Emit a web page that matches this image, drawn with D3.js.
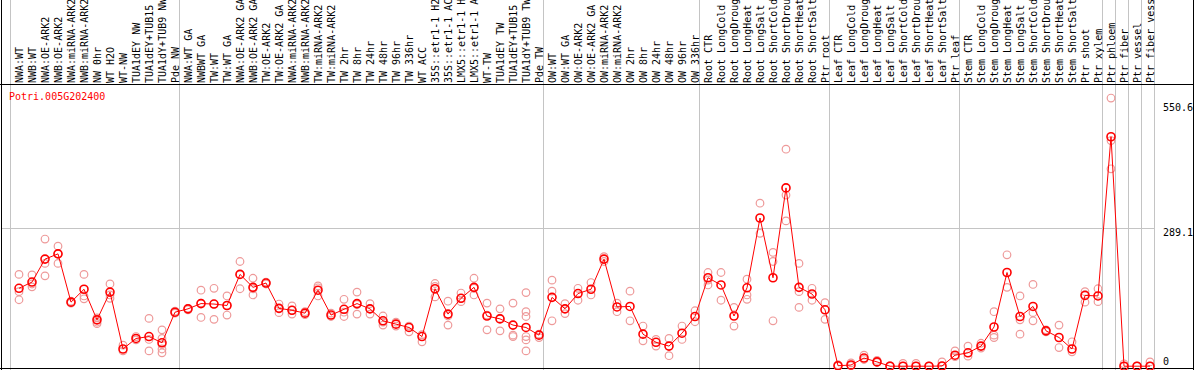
<!DOCTYPE html>
<html>
<head>
<meta charset="utf-8">
<script src="https://d3js.org/d3.v7.min.js"></script>
<style>
  body { margin: 0; background: #fff; }
  text { font-family: "DejaVu Sans Mono", monospace; font-size: 10px; }
</style>
</head>
<body>
<div id="chart"></div>
<script>

const FRAME_HEIGHT = 370;
const FRAME_WIDTH = 1194;
const LABEL_BOTTOM = 85;   // black line under the rotated labels

const GENE = "Potri.005G202400";

// sample names, in plot order
const LABELS = [
  "NWA:WT", "NWB:WT", "NWA:OE-ARK2", "NWB:OE-ARK2", "NWA:miRNA-ARK2", "NWB:miRNA-ARK2",
  "NW 0hr", "WT H2O", "WT-NW", "TUA1dEY NW", "TUA1dEY+TUB15", "TUA1dY+TUB9 NW", "Pde NW",
  "NWA:WT GA", "NWBWT GA", "TW:WT", "TW:WT GA", "NWA:OE-ARK2 GA", "NWB:OE-ARK2 GA",
  "TW:OE-ARK2", "TW:OE-ARK2 GA", "NWA:miRNA-ARK2", "NWB:miRNA-ARK2", "TW:miRNA-ARK2",
  "TW:miRNA-ARK2", "TW 2hr", "TW 8hr", "TW 24hr", "TW 48hr", "TW 96hr", "TW 336hr",
  "WT ACC", "35S::etr1-1 H2O", "35S::etr1-1 ACC", "LMX5::etr1-1 H2O", "LMX5::etr1-1 ACC",
  "WT-TW", "TUA1dEY TW", "TUA1dEY+TUB15", "TUA1dY+TUB9 TW", "Pde TW",
  "OW:WT", "OW:WT GA", "OW:OE-ARK2", "OW:OE-ARK2 GA", "OW:miRNA-ARK2", "OW:miRNA-ARK2",
  "OW 2hr", "OW 8hr", "OW 24hr", "OW 48hr", "OW 96hr", "OW 336hr",
  "Root CTR", "Root LongCold", "Root LongDrought", "Root LongHeat", "Root LongSalt",
  "Root ShortCold", "Root ShortDrought", "Root ShortHeat", "Root ShortSalt", "Ptr root",
  "Leaf CTR", "Leaf LongCold", "Leaf LongDrought", "Leaf LongHeat", "Leaf LongSalt",
  "Leaf ShortCold", "Leaf ShortDrought", "Leaf ShortHeat", "Leaf ShortSalt", "Ptr leaf",
  "Stem CTR", "Stem LongCold", "Stem LongDrought", "Stem LongHeat", "Stem LongSalt",
  "Stem ShortCold", "Stem ShortDrought", "Stem ShortHeat", "Stem ShortSalt", "Ptr shoot",
  "Ptr xylem", "Ptr phloem", "Ptr fiber", "Ptr vessel", "Ptr fiber vessel"
];

// how many samples in each experiment block (gray separators between them)
const GROUP_SIZES = [13, 28, 12, 10, 10, 11, 1, 1, 1, 1];

// mean expression per sample
const MEANS = [
  163, 176, 224, 235, 134, 161, 97, 155, 36, 58, 62, 49, 113,
  120, 131, 130, 127, 192, 165, 174, 121, 117, 111, 159, 107, 119, 131,
  120, 95, 88, 81, 62, 162, 109, 142, 165, 105, 99, 86, 81, 65,
  144, 120, 152, 161, 224, 124, 125, 67, 50, 42, 69, 104,
  185, 170, 105, 164, 310, 185, 373, 165, 151, 118,
  1, 2.5, 17, 9, 0, 0, 0, 0, 0.4, 23,
  28, 42, 82, 196, 104, 125, 74, 60, 36, 148, 147,
  480, 0, 0, 0
];

// replicate values per sample
const REPS = [
  [192, 156, 139], [191, 172, 166], [266, 215, 189], [251, 235, 215], [136, 132],
  [192, 147, 141], [101, 92, 89], [172, 149, 142], [44, 32], [62, 55],
  [100, 56, 32], [76, 58, 45, 36, 28], [115, 111],
  [121, 118], [159, 132, 102], [163, 130, 98], [147, 127, 107], [219, 192, 162],
  [184, 162, 149], [176, 172], [130, 121, 112], [126, 117, 109], [114, 108],
  [168, 164, 147], [111, 104], [140, 113, 104], [155, 129, 109], [131, 120, 109],
  [105, 92, 86], [92, 84], [84, 72], [66, 51], [173, 167, 145], [136, 105, 86],
  [153, 142, 135], [184, 163, 149], [132, 107, 76], [120, 100, 74], [132, 65, 62],
  [154, 114, 104, 62, 55, 32], [67, 60],
  [180, 157, 95], [131, 110], [163, 138], [175, 149], [229, 219], [132, 114],
  [157, 95], [84, 53], [56, 42], [58, 22], [84, 56], [116, 93],
  [196, 180, 170], [196, 138], [123, 84], [182, 149, 140], [341, 278],
  [238, 219, 95], [454, 358, 304], [215, 156, 123], [163, 138], [133, 98],
  [3, 0], [7, 1], [23, 14], [12, 8], [1, 0], [6, 0], [6, 0], [0, 0], [9, 0], [32, 20],
  [42, 21], [48, 38], [114, 65, 60], [233, 165], [147, 97, 67], [171, 112, 95],
  [76, 72], [86, 39], [51, 30], [156, 150, 134], [162, 135],
  [561, 472, 413], [5, 0], [0, 0], [9, 0]
];

// values written at the right edge
const Y_TICKS = [550.6, 289.1, 0];

const FRAME1 = d3.select("#chart")
  .append("svg")
    .attr("width", FRAME_WIDTH)
    .attr("height", FRAME_HEIGHT);

// one 13px slot per sample
const x = d3.scaleBand()
  .domain(d3.range(LABELS.length))
  .range([11, 1155])
  .paddingInner(0)
  .paddingOuter(0);
const px = (i) => x(i) + 8;

const y = d3.scaleLinear()
  .domain([0, 550.6])
  .range([366.2, 103]);

// gray group separators (full height, through the label area too)
let bounds = [0];
GROUP_SIZES.forEach((n) => bounds.push(bounds[bounds.length - 1] + n));
FRAME1.append("g")
  .selectAll("line")
  .data(bounds)
  .enter()
  .append("line")
    .attr("x1", (d) => d < LABELS.length ? x(d) - 0.5 : x(d - 1) + x.bandwidth() - 0.5)
    .attr("x2", (d) => d < LABELS.length ? x(d) - 0.5 : x(d - 1) + x.bandwidth() - 0.5)
    .attr("y1", 0)
    .attr("y2", FRAME_HEIGHT)
    .attr("stroke", "#c4c4c4");

// middle horizontal grid line
FRAME1.append("line")
  .attr("x1", 1).attr("x2", 1155)
  .attr("y1", Math.round(y(Y_TICKS[1])) + 0.5)
  .attr("y2", Math.round(y(Y_TICKS[1])) + 0.5)
  .attr("stroke", "#c4c4c4");

// frame
FRAME1.append("line").attr("x1", 1.5).attr("x2", 1.5).attr("y1", 0).attr("y2", FRAME_HEIGHT)
  .attr("stroke", "#000");
FRAME1.append("line").attr("x1", 1193.5).attr("x2", 1193.5).attr("y1", 0).attr("y2", FRAME_HEIGHT)
  .attr("stroke", "#000");
FRAME1.append("line").attr("x1", 0).attr("x2", FRAME_WIDTH)
  .attr("y1", LABEL_BOTTOM - 0.5).attr("y2", LABEL_BOTTOM - 0.5)
  .attr("stroke", "#000");
FRAME1.append("line").attr("x1", 0).attr("x2", FRAME_WIDTH)
  .attr("y1", 368.5).attr("y2", 368.5)
  .attr("stroke", "#000");

// rotated sample labels
FRAME1.append("g")
  .selectAll("text")
  .data(LABELS)
  .enter()
  .append("text")
    .attr("transform", (d, i) => "translate(" + (px(i) + 3.5) + "," + (LABEL_BOTTOM - 2) + ") rotate(-90)")
    .attr("fill", "#000")
    .text((d) => d);

// gene name
FRAME1.append("text")
  .attr("x", 9)
  .attr("y", 100)
  .attr("fill", "red")
  .text(GENE);

// right side values
FRAME1.append("g")
  .selectAll("text")
  .data(Y_TICKS)
  .enter()
  .append("text")
    .attr("x", 1163)
    .attr("y", (d) => d === 0 ? y(d) - 1 : y(d) + 8)
    .attr("fill", "#000")
    .text((d) => d);

// replicates
let repPts = [];
REPS.forEach((r, i) => r.forEach((v) => repPts.push({i: i, v: v})));
FRAME1.append("g")
  .selectAll("circle")
  .data(repPts)
  .enter()
  .append("circle")
    .attr("cx", (d) => px(d.i))
    .attr("cy", (d) => y(d.v))
    .attr("r", 3.8)
    .attr("fill", "none")
    .attr("stroke", "#ee9a9a")
    .attr("stroke-width", 1.2);

// mean line
FRAME1.append("path")
  .datum(MEANS)
  .attr("d", d3.line().x((d, i) => px(i)).y((d) => y(d)))
  .attr("fill", "none")
  .attr("stroke", "red")
  .attr("stroke-width", 1);

// mean markers
FRAME1.append("g")
  .selectAll("circle")
  .data(MEANS)
  .enter()
  .append("circle")
    .attr("cx", (d, i) => px(i))
    .attr("cy", (d) => y(d))
    .attr("r", 4)
    .attr("fill", "none")
    .attr("stroke", "red")
    .attr("stroke-width", 1.6);

</script>
</body>
</html>
